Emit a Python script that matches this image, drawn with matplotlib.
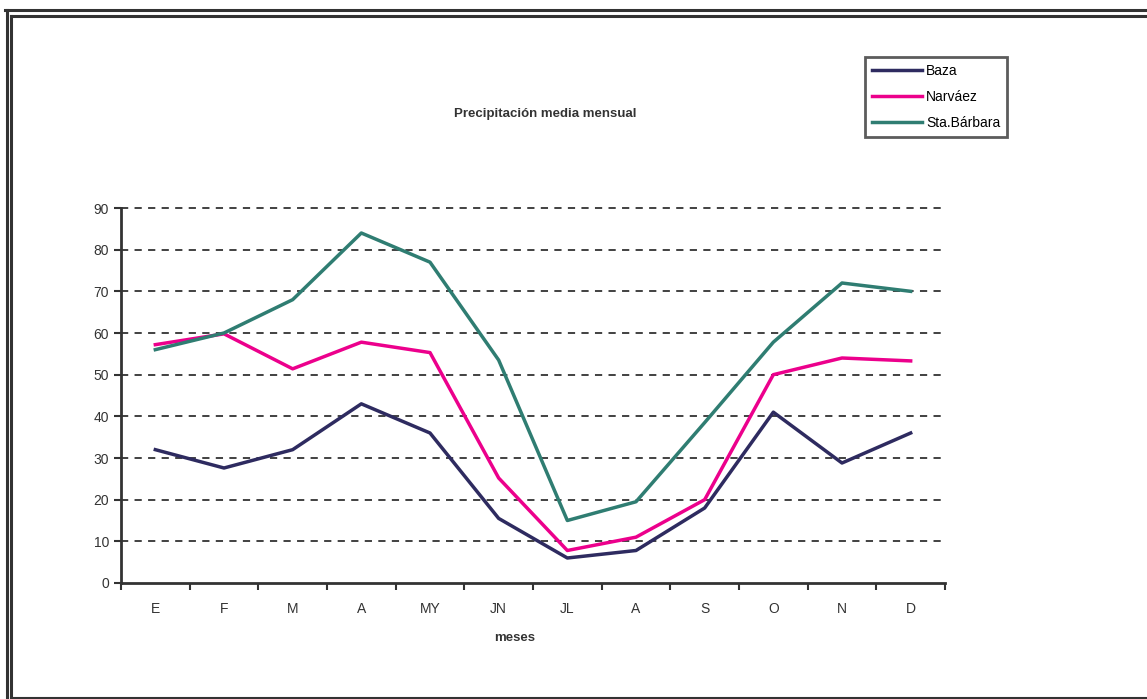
import matplotlib.pyplot as plt
from matplotlib.lines import Line2D

plt.rcParams['font.family'] = ['Liberation Sans', 'DejaVu Sans']

# monthly precipitation (mm)
meses = ['E', 'F', 'M', 'A', 'MY', 'JN', 'JL', 'A', 'S', 'O', 'N', 'D']
baza = [32, 27.6, 32, 43, 36, 15.5, 6, 7.8, 18, 41, 28.8, 36]
narvaez = [57.2, 59.8, 51.4, 57.8, 55.3, 25.2, 7.8, 11, 20, 50, 54, 53.3]
sta_barbara = [56, 60, 68, 84, 77, 53.5, 15, 19.5, 38.5, 57.8, 72, 70]

W, H = 1147, 699
fig = plt.figure(figsize=(W / 100, H / 100), dpi=100)

# scanned page frame (double line top and left)
def fline(x0, y0, x1, y1, lw):
    fig.add_artist(Line2D([x0 / W, x1 / W], [1 - y0 / H, 1 - y1 / H],
                          color='#333333', lw=lw, transform=fig.transFigure))

fline(5, 10, W, 10, 2.2)
fline(11, 16, W, 16, 2.2)
fline(7, 10, 7, H, 2.2)
fline(11, 16, 11, 697, 2.2)
fline(11, 697.5, W, 697.5, 1.5)

ax = fig.add_axes([121 / W, 1 - 583 / H, (945 - 121) / W, (583 - 208) / H])
x = list(range(len(meses)))
ax.plot(x, baza, color='#2E2B60', lw=2.5, label='Baza')
ax.plot(x, narvaez, color='#EC008C', lw=2.5, label='Narváez')
ax.plot(x, sta_barbara, color='#2F7D72', lw=2.5, label='Sta.Bárbara')

ax.set_xlim(-0.5, 11.5)
ax.set_ylim(0, 90)
ax.set_yticks(range(0, 91, 10))
for v in range(10, 91, 10):
    ax.axhline(v, color='#333333', lw=1.3, ls=(0, (4, 3.5)), zorder=0, clip_on=False)

ax.set_xticks([i + 0.5 for i in range(-1, 12)])
ax.set_xticklabels([])
ax.set_xticks(x, minor=True)
ax.set_xticklabels(meses, minor=True)
ax.tick_params(axis='x', which='minor', length=0, pad=14, labelsize=10, labelcolor='#333333')
ax.tick_params(axis='x', which='major', length=5, width=1.5, color='#333333', direction='out')
ax.tick_params(axis='y', length=5, width=1.5, color='#333333', labelsize=10, labelcolor='#333333')

for s in ['top', 'right']:
    ax.spines[s].set_visible(False)
for s in ['left', 'bottom']:
    ax.spines[s].set_color('#333333')
    ax.spines[s].set_linewidth(2)

fig.text(545 / W, 1 - 114 / H, 'Precipitación media mensual', ha='center', va='center',
         fontsize=9.5, fontweight='bold', color='#333333')
fig.text(515 / W, 1 - 638 / H, 'meses', ha='center', va='center',
         fontsize=9.5, fontweight='bold', color='#333333')

leg = fig.legend(loc='upper left', bbox_to_anchor=(865 / W, 1 - 57 / H), frameon=True,
                 fancybox=False, fontsize=10, handlelength=3.6, handletextpad=0.3,
                 labelspacing=0.85, borderpad=0.5, borderaxespad=0)
leg.get_frame().set_edgecolor('#333333')
leg.get_frame().set_linewidth(2)

fig.savefig('out.png', dpi=100)
